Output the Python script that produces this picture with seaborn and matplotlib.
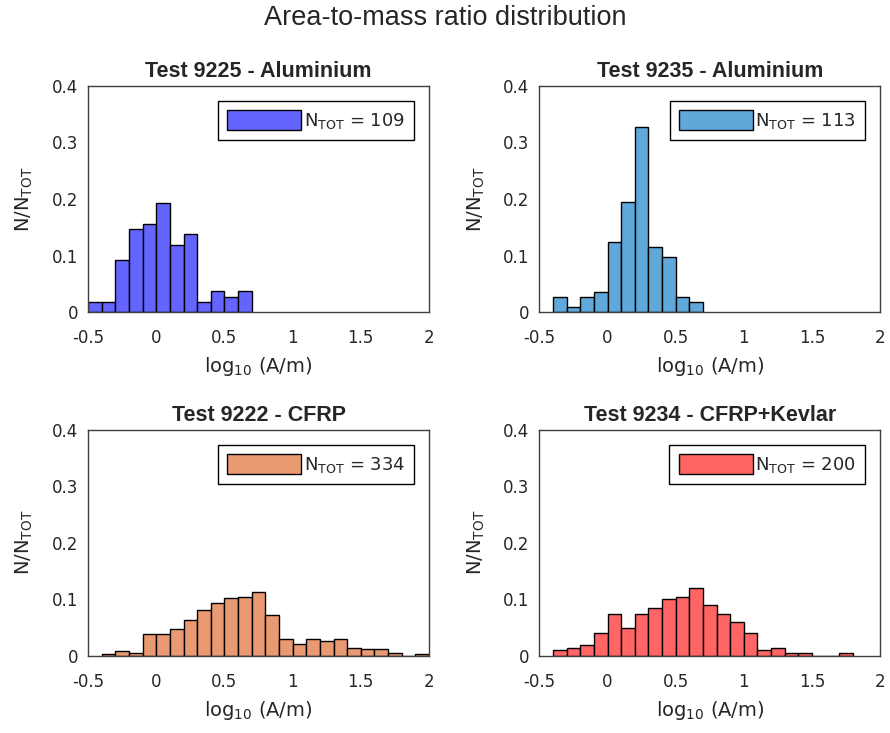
import numpy as np
import pandas as pd
import seaborn as sns
import matplotlib.pyplot as plt
from matplotlib.patches import Patch

# bin width 0.1, left edge of first bin per test, counts per bin
bin_width = 0.1

start_9225 = -0.5
counts_9225 = [2, 2, 10, 16, 17, 21, 13, 15, 2, 4, 3, 4]
ntot_9225 = 109

start_9235 = -0.4
counts_9235 = [3, 1, 3, 4, 14, 22, 37, 13, 11, 3, 2]
ntot_9235 = 113

start_9222 = -0.4
counts_9222 = [1, 3, 2, 13, 13, 16, 21, 27, 31, 34, 35, 38, 24, 10, 7, 10, 9, 10, 5, 4, 4, 2, 0, 1]
ntot_9222 = 334

start_9234 = -0.4
counts_9234 = [2, 3, 4, 8, 15, 10, 15, 17, 20, 21, 24, 18, 15, 12, 8, 2, 3, 1, 1, 0, 0, 1]
ntot_9234 = 200

titles = ["Test 9225 - Aluminium", "Test 9235 - Aluminium", "Test 9222 - CFRP", "Test 9234 - CFRP+Kevlar"]
colors = ["#6464FF", "#60A8D9", "#EA9A72", "#FF6565"]

sns.set_style("white")
plt.rcParams['font.family'] = ['DejaVu Sans']
plt.rcParams['mathtext.fontset'] = 'dejavusans'
title_font = ['Liberation Sans', 'DejaVu Sans']

fig = plt.figure(figsize=(8.9, 7.33), dpi=100)
positions = [
    [0.099, 0.574, 0.383, 0.309],
    [0.606, 0.574, 0.383, 0.309],
    [0.099, 0.105, 0.383, 0.309],
    [0.606, 0.105, 0.383, 0.309],
]

datasets = [
    (start_9225, counts_9225, ntot_9225),
    (start_9235, counts_9235, ntot_9235),
    (start_9222, counts_9222, ntot_9222),
    (start_9234, counts_9234, ntot_9234),
]

for i, (start, counts, ntot) in enumerate(datasets):
    ax = fig.add_axes(positions[i])
    n = len(counts)
    edges = start + bin_width * np.arange(n + 1)
    df = pd.DataFrame({
        "x": (edges[:-1] + edges[1:]) / 2,
        "w": np.array(counts) / ntot,
    })
    sns.histplot(data=df, x="x", weights="w", binwidth=bin_width,
                 binrange=(edges[0], edges[-1]), ax=ax,
                 color=colors[i], alpha=1, edgecolor="black", linewidth=1.0)
    ax.set_xlim(-0.5, 2)
    ax.set_ylim(0, 0.4)
    ax.set_xticks([-0.5, 0, 0.5, 1, 1.5, 2])
    ax.set_xticklabels(["-0.5", "0", "0.5", "1", "1.5", "2"])
    ax.set_yticks([0, 0.1, 0.2, 0.3, 0.4])
    ax.set_yticklabels(["0", "0.1", "0.2", "0.3", "0.4"])
    ax.tick_params(labelsize=12, length=0, colors="#262626")
    ax.tick_params(axis="x", pad=12)
    ax.tick_params(axis="y", pad=7)
    for s in ax.spines.values():
        s.set_color("#404040")
        s.set_linewidth(1.0)
    ax.set_title(titles[i], fontsize=15.5, fontweight="bold", pad=6, family=title_font)
    ax.set_xlabel(r"log$_{10}$ (A/m)", fontsize=14, color="#262626", labelpad=6)
    ax.set_ylabel(r"N/N$_{\mathrm{TOT}}$", fontsize=14, color="#262626", labelpad=12)
    handle = Patch(facecolor=colors[i], edgecolor="black", linewidth=1.0)
    leg = ax.legend([handle], [r"N$_{\mathrm{TOT}}$ = %d" % ntot], loc="upper right",
                    fontsize=13, handlelength=4.1, handleheight=1.33, handletextpad=0.15,
                    fancybox=False, framealpha=1, borderaxespad=0.83,
                    borderpad=0.5)
    leg.get_frame().set_edgecolor("black")
    leg.get_frame().set_linewidth(1.0)

fig.suptitle("Area-to-mass ratio distribution", fontsize=19.5, y=0.993, family=title_font)
fig.savefig("out.png", dpi=100)
